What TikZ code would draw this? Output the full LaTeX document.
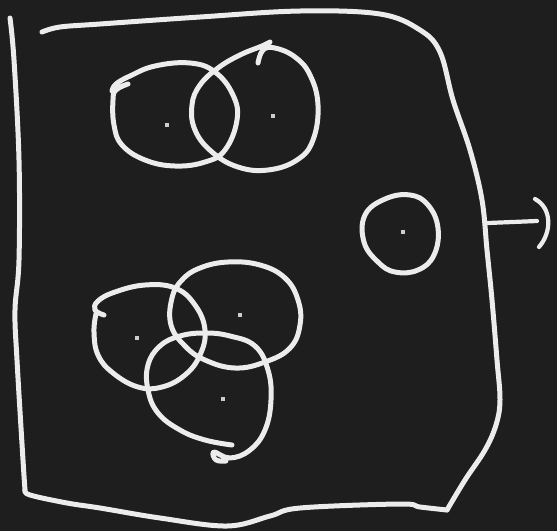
\documentclass[tikz,border=0pt]{standalone}
\definecolor{board}{RGB}{30,30,30}
\definecolor{chalkc}{RGB}{236,236,236}
\tikzset{
  chalk/.style={draw=chalkc, line width=5pt, line cap=round, line join=round},
  chalkdot/.style={fill=chalkc!85!board, draw=none, minimum size=4pt, inner sep=0pt, shape=rectangle}
}
\begin{document}
\begin{tikzpicture}[x=1pt,y=-1pt]
\fill[board] (0,0) rectangle (557,531);
\useasboundingbox (0,0) rectangle (557,531);
% outer frame
\draw[chalk] plot[smooth, tension=0.6] coordinates {
 (42,32)(60,27)(100,24)(200,17)(300,11)(380,14)(420,30)(440,52)(453,100)(470,150)(482,200)(487,250)(492,300)(497,360)(500,400)(496,425)(485,450)(465,480)(447,510)};
\draw[chalk] plot[smooth, tension=0.6] coordinates {
 (447,510)(420,507)(400,504)(300,508)(270,516)(227,526)(160,518)(100,508)(67,503)(30,495)(25,490)};
\draw[chalk] plot[smooth, tension=0.6] coordinates {
 (25,490)(23,460)(17,360)(15,310)(19,260)(19,160)(14,60)(10,18)};
% arrow out
\coordinate (aS) at (488,223);
\coordinate (aE) at (537,221);
\draw[chalk, line width=4.2pt] (aS) -- (aE);
\draw[chalk, line width=4.2pt] (535,199) .. controls (552,208) and (552,232) .. (539,247);
% top pair
\draw[chalk] plot[smooth, tension=0.7] coordinates {
 (128,84)(116,90)(113,100)(114,125)(122,145)(145,160)(175,166)(205,162)(225,150)(237,120)(233,95)(215,72)(190,63)(155,66)(130,76)(116,84)(112,91)};
\draw[chalk] plot[smooth, tension=0.7] coordinates {
 (258,63)(263,50)(275,48)(295,57)(310,75)(318,105)(313,140)(297,160)(268,170)(238,167)(212,152)(195,130)(192,105)(200,85)(218,68)(240,55)(262,46)(270,42)};
% single
\draw[chalk] plot[smooth cycle, tension=0.7] coordinates {
 (385,199)(410,195)(428,205)(438,228)(434,255)(418,270)(395,272)(378,262)(364,242)(365,215)};
% bottom trio
\draw[chalk] plot[smooth, tension=0.7] coordinates {
 (104,315)(95,310)(98,301)(115,292)(145,285)(175,288)(195,305)(205,330)(200,355)(185,375)(162,387)(138,387)(113,373)(98,355)(94,332)(96,314)};
\draw[chalk] plot[smooth cycle, tension=0.7] coordinates {
 (172,298)(182,280)(200,268)(228,262)(260,265)(285,278)(298,300)(300,325)(290,348)(265,362)(235,368)(205,360)(185,346)(171,325)};
\draw[chalk] plot[smooth, tension=0.7] coordinates {
 (232,445)(205,440)(180,430)(158,413)(148,390)(148,365)(160,346)(180,336)(205,333)(230,336)(255,346)(268,370)(271,400)(265,430)(250,450)(230,458)(214,452)(216,460)(226,461)};
% dots
\node[chalkdot] (d1) at (167,125) {};
\node[chalkdot] (d2) at (273,116) {};
\node[chalkdot] (d3) at (403,232) {};
\node[chalkdot] (d4) at (137,338) {};
\node[chalkdot] (d5) at (240,315) {};
\node[chalkdot] (d6) at (223,399) {};
\end{tikzpicture}
\end{document}
